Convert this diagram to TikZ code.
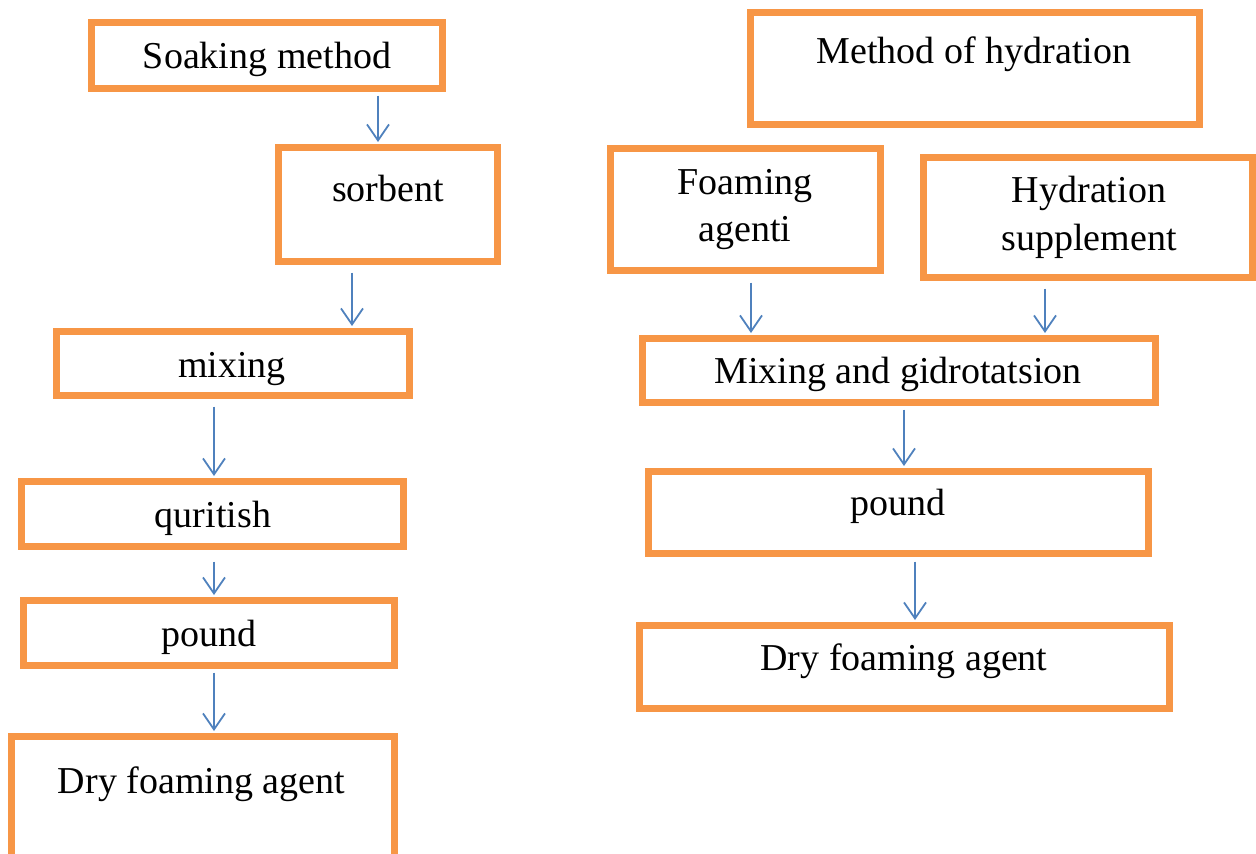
\documentclass[tikz,border=0pt]{standalone}
\usepackage{fontspec}
\setmainfont{Liberation Serif}
\usetikzlibrary{arrows.meta}
\definecolor{boxorange}{RGB}{247,150,70}
\definecolor{arrblue}{RGB}{79,129,189}
\begin{document}
\begin{tikzpicture}[x=1pt,y=-1pt,
  box/.style={draw=boxorange,line width=7pt,rectangle,inner sep=0pt,line join=miter},
  lbl/.style={anchor=base,inner sep=0pt,font=\fontsize{38}{44}\selectfont},
  arr/.style={draw=arrblue,line width=1.8pt,-{Straight Barb[length=16pt,width=22pt]},shorten >=2pt}]
\path[use as bounding box,clip] (0,0) rectangle (1256,854);
% left column
\node[box,minimum width=351pt,minimum height=66pt]  (soak)   at (267,55.5) {};
\node[box,minimum width=219pt,minimum height=114pt] (sorb)   at (388,204.5) {};
\node[box,minimum width=353pt,minimum height=64pt]  (mix)    at (233,363.5) {};
\node[box,minimum width=382pt,minimum height=65pt]  (qur)    at (212.5,514) {};
\node[box,minimum width=371pt,minimum height=65pt]  (poundL) at (209,633) {};
\node[box,minimum width=383pt,minimum height=133pt] (dryL)   at (203,803) {};
% right column
\node[box,minimum width=449pt,minimum height=112pt] (meth)   at (975,68.5) {};
\node[box,minimum width=270pt,minimum height=122pt] (foam)   at (745.5,209.5) {};
\node[box,minimum width=329pt,minimum height=120pt] (hyd)    at (1088,217.5) {};
\node[box,minimum width=513pt,minimum height=64pt]  (mixg)   at (899,370.5) {};
\node[box,minimum width=500pt,minimum height=82pt]  (poundR) at (898.5,512.5) {};
\node[box,minimum width=530pt,minimum height=83pt]  (dryR)   at (904.5,667) {};
% labels
\node[lbl] (tsoak)   at (267,68)   {Soaking method};
\node[lbl] (tsorb)   at (388,201)  {sorbent};
\node[lbl] (tmix)    at (232,377)  {mixing};
\node[lbl] (tqur)    at (213,527)  {quritish};
\node[lbl] (tpoundL) at (208.5,646) {pound};
\node[lbl] (tdryL)   at (201.5,793) {Dry foaming agent};
\node[lbl] (tmeth)   at (974,63)   {Method of hydration};
\node[lbl] (tfoamA)  at (745,194)  {Foaming};
\node[lbl] (tfoamB)  at (745,241)  {agenti};
\node[lbl] (thydA)   at (1089,202) {Hydration};
\node[lbl] (thydB)   at (1089,250) {supplement};
\node[lbl] (tmixg)   at (898,383)  {Mixing and gidrotatsion};
\node[lbl] (tpoundR) at (898,515)  {pound};
\node[lbl] (tdryR)   at (904,670)  {Dry foaming agent};
% arrows
\draw[arr,shorten <=3.5pt] (soak.south -| 378,0) -- (sorb.north -| 378,0);
\draw[arr,shorten <=7.5pt] (sorb.south -| 352,0) -- (mix.north -| 352,0);
\draw[arr,shorten <=7.5pt] (mix.south -| 214,0) -- (qur.north -| 214,0);
\draw[arr,shorten <=11.5pt] (qur.south -| 214,0) -- (poundL.north -| 214,0);
\draw[arr,shorten <=3.5pt] (poundL.south -| 214,0) -- (dryL.north -| 214,0);
\draw[arr,shorten <=8.5pt] (foam.south -| 751,0) -- (mixg.north -| 751,0);
\draw[arr,shorten <=7.5pt] (hyd.south -| 1045,0) -- (mixg.north -| 1045,0);
\draw[arr,shorten <=3.5pt] (mixg.south -| 904,0) -- (poundR.north -| 904,0);
\draw[arr,shorten <=4.5pt] (poundR.south -| 915,0) -- (dryR.north -| 915,0);
\end{tikzpicture}
\end{document}
